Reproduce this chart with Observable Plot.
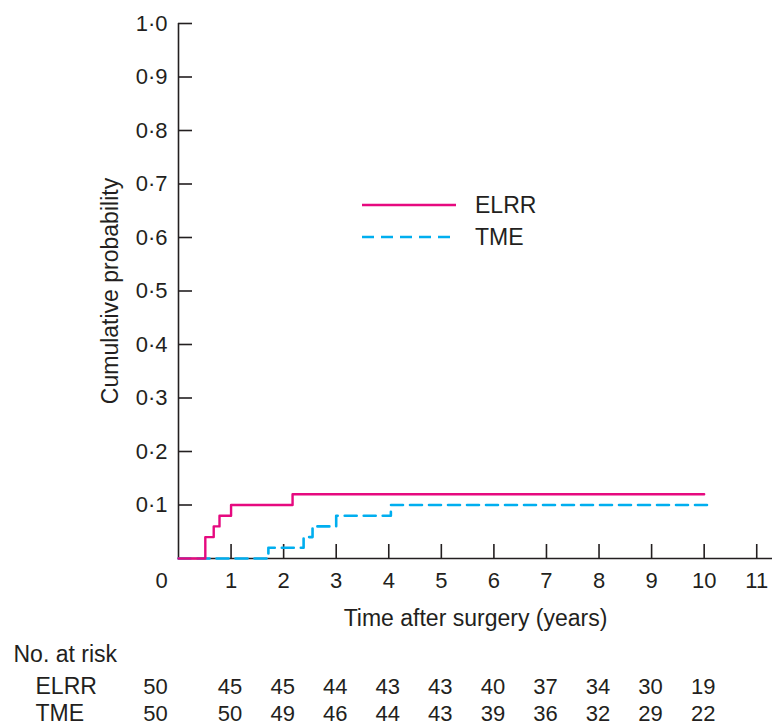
<!DOCTYPE html>
<html><head><meta charset="utf-8">
<script src="https://cdn.jsdelivr.net/npm/d3@7"></script>
<script src="https://cdn.jsdelivr.net/npm/@observablehq/plot@0.6"></script>
<style>
body{margin:0;background:#fff;}
#wrap{position:relative;width:774px;height:727px;font-family:"Liberation Sans",Arial,sans-serif;color:#231f20;}
#legend{position:absolute;left:362px;top:189px;font-size:23px;}
#legend .row{display:flex;align-items:center;height:32px;}
#legend svg{margin-right:19px;}
</style></head><body>
<div id="wrap"><div id="chart"></div><div id="legend"></div></div>
<script>
// Series
const seriesNames = ["ELRR", "TME"];
const seriesColors = ["#e6097f", "#00aeef"];
const seriesDash = [null, "12,7"];
// Cumulative probability step curves (time in years)
const elrrTime = [0, 0.51, 0.67, 0.78, 1.0, 2.17, 10.0];
const elrrProb = [0, 0.04, 0.06, 0.08, 0.10, 0.12, 0.12];
const tmeTime = [0, 1.71, 2.38, 2.55, 3.0, 4.04, 10.1];
const tmeProb = [0, 0.02, 0.04, 0.06, 0.08, 0.10, 0.10];
// Axes
const xTicks = [0, 1, 2, 3, 4, 5, 6, 7, 8, 9, 10, 11];
const yTicks = [0.1, 0.2, 0.3, 0.4, 0.5, 0.6, 0.7, 0.8, 0.9, 1.0];
const xLabel = "Time after surgery (years)";
const yLabel = "Cumulative probability";
// Numbers at risk
const riskTitle = "No. at risk";
const riskYears = [0, 1, 2, 3, 4, 5, 6, 7, 8, 9, 10];
const riskELRR = [50, 45, 45, 44, 43, 43, 40, 37, 34, 30, 19];
const riskTME = [50, 50, 49, 46, 44, 43, 39, 36, 32, 29, 22];

const ink = "#231f20";
const elrr = elrrTime.map((t, i) => ({t, p: elrrProb[i]}));
const tme = tmeTime.map((t, i) => ({t, p: tmeProb[i]}));
const rowELRR = riskYears.map((y, i) => ({y, n: riskELRR[i]}));
const rowTME = riskYears.map((y, i) => ({y, n: riskTME[i]}));
const fmt = d => d.toFixed(1).replace(".", "\u00b7");
const xMax = 11.3;

const txt = {fill: ink, fontSize: 22};
const big = {fill: ink, fontSize: 23};
const chart = Plot.plot({
  width: 774, height: 727,
  marginLeft: 178, marginRight: 2, marginTop: 23, marginBottom: 169,
  x: {domain: [0, xMax], axis: null},
  y: {domain: [0, 1], axis: null},
  style: {fontFamily: "'Liberation Sans', Arial, sans-serif", fontSize: "22px", background: "white", color: ink},
  marks: [
    Plot.ruleY([0], {x1: 0, x2: xMax, stroke: ink, strokeWidth: 1.6}),
    Plot.ruleX([0], {y1: 0, y2: 1, stroke: ink, strokeWidth: 1.6}),
    Plot.ruleX(xTicks.slice(1), {x: d => d, y1: 0, y2: 0, insetTop: -14, stroke: ink, strokeWidth: 1.6}),
    Plot.ruleY(yTicks, {y: d => d, x1: 0, x2: 0, insetRight: -14, stroke: ink, strokeWidth: 1.6}),
    Plot.text(xTicks.slice(0, 1), {x: d => d, y: 0, dy: 22, dx: -17, text: d => String(d), lineAnchor: "middle", ...txt}),
    Plot.text(xTicks.slice(1), {x: d => d, y: 0, dy: 22, text: d => String(d), lineAnchor: "middle", ...txt}),
    Plot.text(yTicks, {x: 0, y: d => d, dx: -11, text: fmt, textAnchor: "end", lineAnchor: "middle", ...txt}),
    Plot.text([xLabel], {frameAnchor: "bottom", dy: 60, text: d => d, textAnchor: "middle", lineAnchor: "middle", ...big}),
    Plot.text([yLabel], {frameAnchor: "left", dx: -68, rotate: -90, text: d => d, textAnchor: "middle", lineAnchor: "middle", ...big}),
    Plot.line(tme, {x: "t", y: "p", curve: "step-after", stroke: seriesColors[1], strokeWidth: 2.6, strokeDasharray: seriesDash[1]}),
    Plot.line(elrr, {x: "t", y: "p", curve: "step-after", stroke: seriesColors[0], strokeWidth: 2.4}),
    Plot.text([riskTitle], {frameAnchor: "bottom-left", dx: -165, dy: 96, textAnchor: "start", text: d => d, lineAnchor: "middle", ...big}),
    Plot.text([seriesNames[0]], {frameAnchor: "bottom-left", dx: -143, dy: 128, textAnchor: "start", text: d => d, lineAnchor: "middle", ...big}),
    Plot.text([seriesNames[1]], {frameAnchor: "bottom-left", dx: -143, dy: 155, textAnchor: "start", text: d => d, lineAnchor: "middle", ...big}),
    Plot.text(rowELRR.slice(0, 1), {x: "y", frameAnchor: "bottom", dx: -23, dy: 128, text: "n", lineAnchor: "middle", ...txt}),
    Plot.text(rowELRR.slice(1), {x: "y", frameAnchor: "bottom", dx: -1, dy: 128, text: "n", lineAnchor: "middle", ...txt}),
    Plot.text(rowTME.slice(0, 1), {x: "y", frameAnchor: "bottom", dx: -23, dy: 155, text: "n", lineAnchor: "middle", ...txt}),
    Plot.text(rowTME.slice(1), {x: "y", frameAnchor: "bottom", dx: -1, dy: 155, text: "n", lineAnchor: "middle", ...txt})
  ]
});
document.getElementById("chart").appendChild(chart);

// Legend
const legend = document.getElementById("legend");
seriesNames.forEach((name, i) => {
  const row = document.createElement("div");
  row.className = "row";
  row.innerHTML = `<svg width="94" height="6"><line x1="0" x2="94" y1="3" y2="3" stroke="${seriesColors[i]}" stroke-width="${i ? 2.6 : 2.4}" ${seriesDash[i] ? `stroke-dasharray="${seriesDash[i]}"` : ""}/></svg><span>${name}</span>`;
  legend.appendChild(row);
});
</script>
</body></html>
